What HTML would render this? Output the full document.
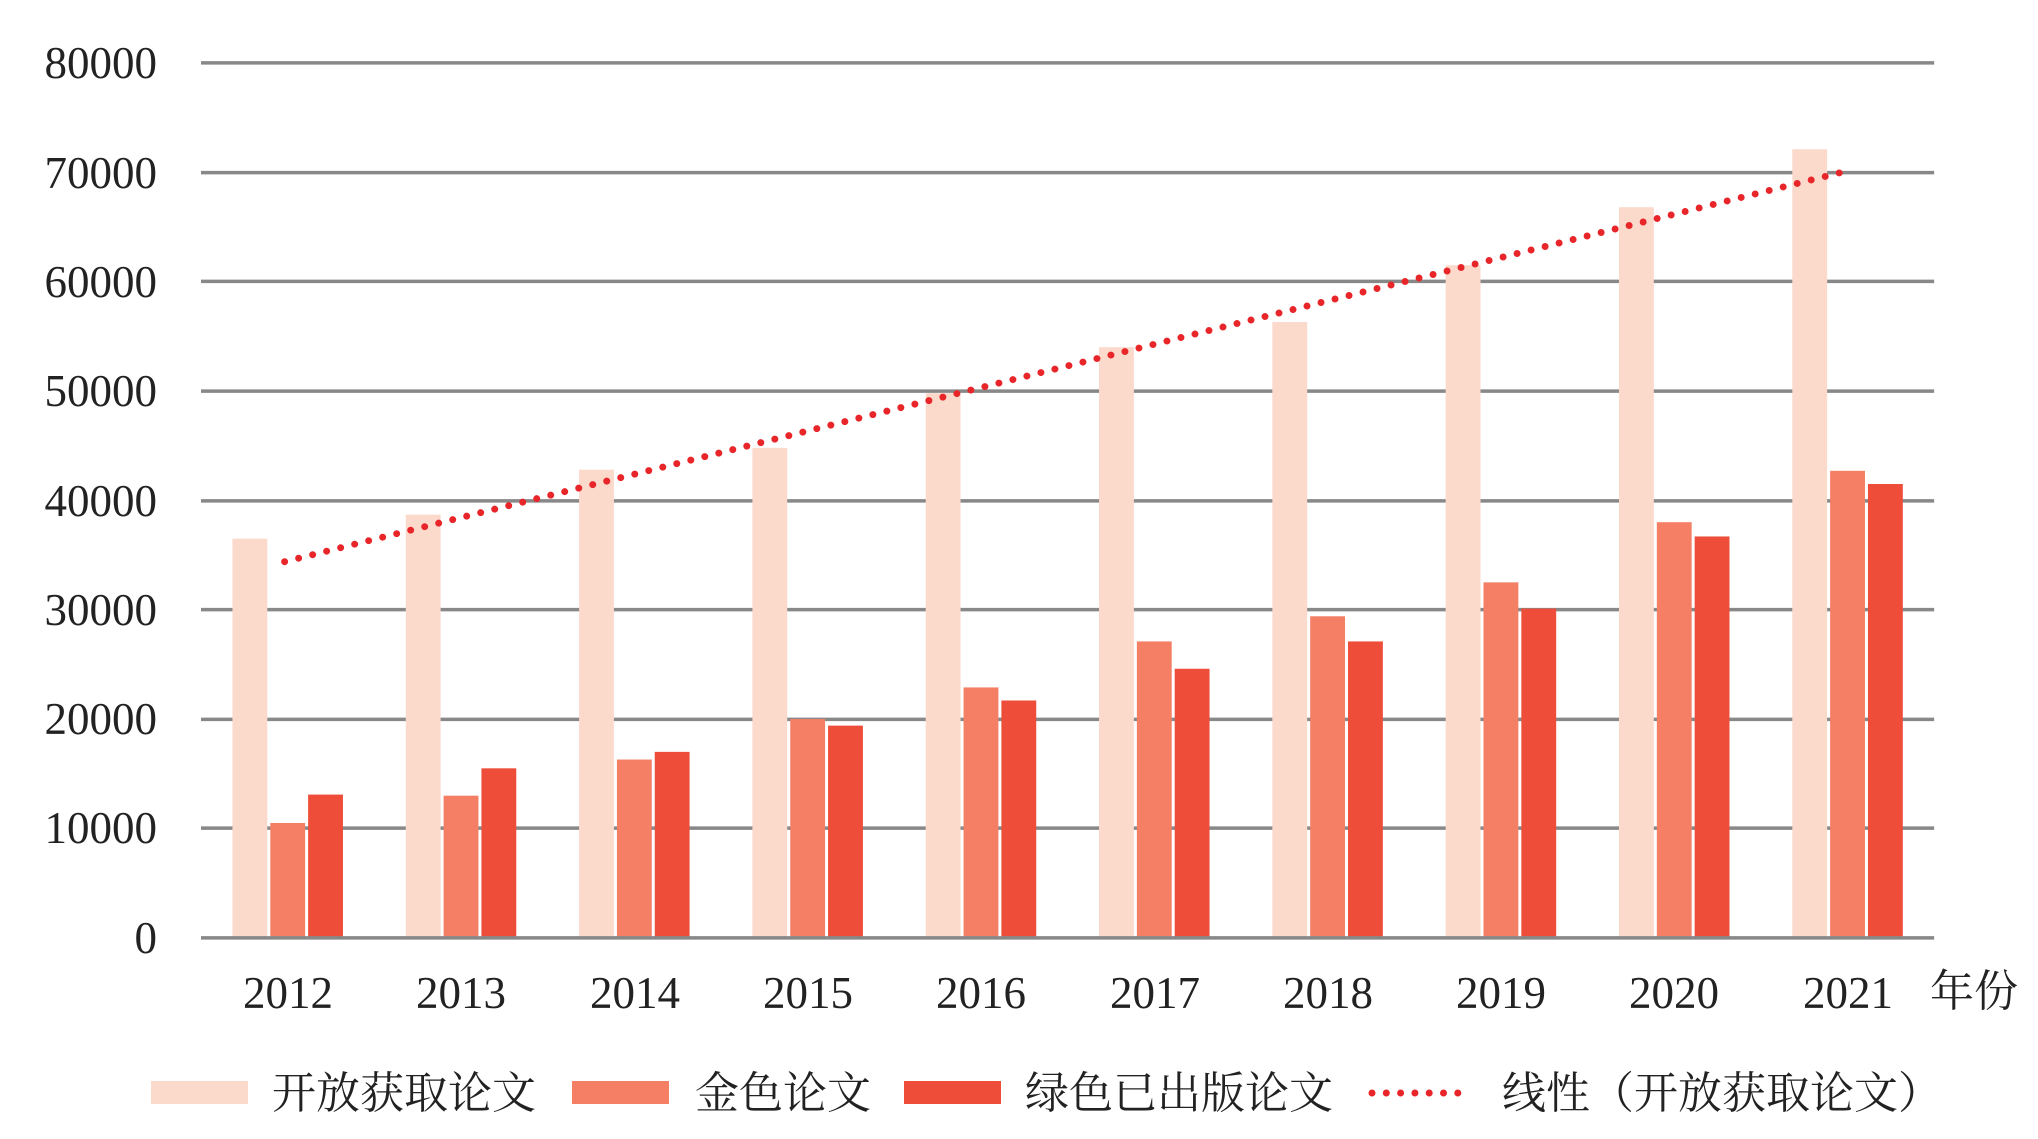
<!DOCTYPE html>
<html><head><meta charset="utf-8"><style>html,body{margin:0;padding:0;background:#fff;}svg{display:block}</style></head>
<body>
<svg width="2038" height="1139" xmlns="http://www.w3.org/2000/svg" font-family="'Liberation Serif','Noto Serif CJK SC',serif">
<g transform="translate(201,0) scale(0.9955,0.9977) translate(-201,0)">
<g stroke="#888" stroke-width="3.5">
<line x1="201" x2="1942" y1="63" y2="63"/><line x1="201" x2="1942" y1="173" y2="173"/>
<line x1="201" x2="1942" y1="282" y2="282"/><line x1="201" x2="1942" y1="392" y2="392"/>
<line x1="201" x2="1942" y1="502" y2="502"/><line x1="201" x2="1942" y1="611" y2="611"/>
<line x1="201" x2="1942" y1="721" y2="721"/><line x1="201" x2="1942" y1="830" y2="830"/>
</g>
<g>
<rect x="232.6" y="539.9" width="35" height="400.1" fill="#fbd9cb"/><rect x="270.6" y="824.9" width="35" height="115.1" fill="#f47f65"/><rect x="308.6" y="796.4" width="35" height="143.6" fill="#ee4d3a"/>
<rect x="406.7" y="515.8" width="35" height="424.2" fill="#fbd9cb"/><rect x="444.7" y="797.5" width="35" height="142.5" fill="#f47f65"/><rect x="482.7" y="770.1" width="35" height="169.9" fill="#ee4d3a"/>
<rect x="580.8" y="470.8" width="35" height="469.2" fill="#fbd9cb"/><rect x="618.8" y="761.3" width="35" height="178.7" fill="#f47f65"/><rect x="656.8" y="753.6" width="35" height="186.4" fill="#ee4d3a"/>
<rect x="754.9" y="448.9" width="35" height="491.1" fill="#fbd9cb"/><rect x="792.9" y="720.7" width="35" height="219.3" fill="#f47f65"/><rect x="830.9" y="727.3" width="35" height="212.7" fill="#ee4d3a"/>
<rect x="929.0" y="394.1" width="35" height="545.9" fill="#fbd9cb"/><rect x="967.0" y="689.0" width="35" height="251.0" fill="#f47f65"/><rect x="1005.0" y="702.1" width="35" height="237.9" fill="#ee4d3a"/>
<rect x="1103.1" y="348.0" width="35" height="592.0" fill="#fbd9cb"/><rect x="1141.1" y="642.9" width="35" height="297.1" fill="#f47f65"/><rect x="1179.1" y="670.3" width="35" height="269.7" fill="#ee4d3a"/>
<rect x="1277.2" y="322.8" width="35" height="617.2" fill="#fbd9cb"/><rect x="1315.2" y="617.7" width="35" height="322.3" fill="#f47f65"/><rect x="1353.2" y="642.9" width="35" height="297.1" fill="#ee4d3a"/>
<rect x="1451.3" y="265.8" width="35" height="674.2" fill="#fbd9cb"/><rect x="1489.3" y="583.7" width="35" height="356.3" fill="#f47f65"/><rect x="1527.3" y="610.0" width="35" height="330.0" fill="#ee4d3a"/>
<rect x="1625.4" y="207.7" width="35" height="732.3" fill="#fbd9cb"/><rect x="1663.4" y="523.4" width="35" height="416.6" fill="#f47f65"/><rect x="1701.4" y="537.7" width="35" height="402.3" fill="#ee4d3a"/>
<rect x="1799.5" y="149.6" width="35" height="790.4" fill="#fbd9cb"/><rect x="1837.5" y="471.9" width="35" height="468.1" fill="#f47f65"/><rect x="1875.5" y="485.1" width="35" height="454.9" fill="#ee4d3a"/>
</g>
<line x1="201" x2="1942" y1="940" y2="940" stroke="#888" stroke-width="3.5"/>
<line x1="285" y1="563" x2="1852" y2="172" stroke="#e8262a" stroke-width="7" stroke-linecap="round" stroke-dasharray="0 14.5"/>
</g>
<g font-size="45" fill="#222" text-anchor="end">
<text x="157" y="78">80000</text><text x="157" y="188">70000</text><text x="157" y="297">60000</text>
<text x="157" y="406">50000</text><text x="157" y="516">40000</text><text x="157" y="625">30000</text>
<text x="157" y="734">20000</text><text x="157" y="843">10000</text><text x="157" y="953">0</text>
</g>
<g font-size="45" fill="#222" text-anchor="middle">
<text x="288" y="1008">2012</text><text x="461" y="1008">2013</text><text x="635" y="1008">2014</text><text x="808" y="1008">2015</text><text x="981" y="1008">2016</text>
<text x="1155" y="1008">2017</text><text x="1328" y="1008">2018</text><text x="1501" y="1008">2019</text><text x="1674" y="1008">2020</text><text x="1848" y="1008">2021</text>
</g>
<text x="1930" y="1006" font-size="44" fill="#222">年份</text>
<g font-size="44" fill="#222">
<rect x="151" y="1081" width="97" height="23" fill="#fbd9cb"/><text x="272" y="1108">开放获取论文</text>
<rect x="572" y="1081" width="97" height="23" fill="#f47f65"/><text x="695" y="1108">金色论文</text>
<rect x="904" y="1081" width="97" height="23" fill="#ee4d3a"/><text x="1025" y="1108">绿色已出版论文</text>
<line x1="1372" x2="1472" y1="1093" y2="1093" stroke="#e8262a" stroke-width="7" stroke-linecap="round" stroke-dasharray="0 14.3"/>
<text x="1502" y="1108">线性（开放获取论文）</text>
</g>
</svg>
</body></html>
